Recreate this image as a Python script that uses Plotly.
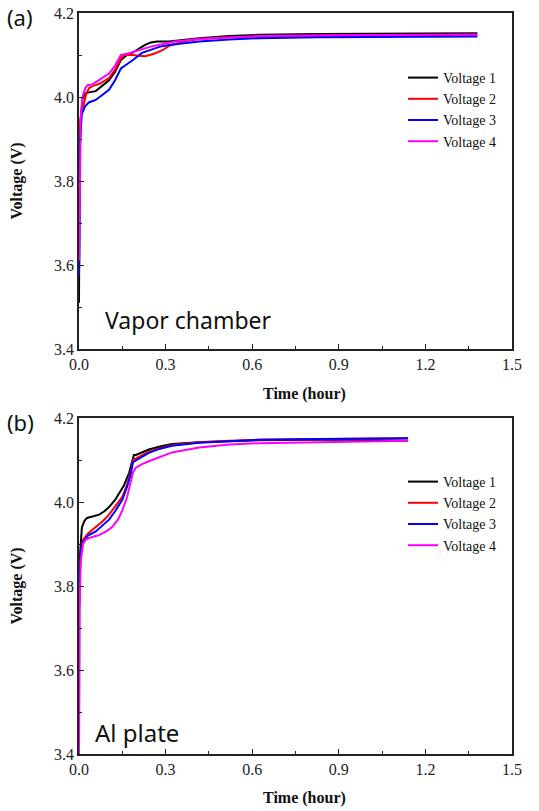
import plotly.graph_objects as go

# ---------------- data: panel (a) Vapor chamber ----------------
a_v1_t = [0, 0.002, 0.006, 0.012, 0.021, 0.034, 0.058, 0.083, 0.104, 0.125, 0.145, 0.166, 0.187, 0.208, 0.229, 0.249, 0.27, 0.312, 0.364, 0.416, 0.52, 0.623, 0.831, 1.039, 1.247, 1.38]
a_v1_v = [3.51, 3.85, 3.95, 3.995, 4.008, 4.011, 4.014, 4.027, 4.04, 4.06, 4.088, 4.1, 4.106, 4.115, 4.124, 4.13, 4.132, 4.132, 4.136, 4.14, 4.145, 4.148, 4.15, 4.151, 4.152, 4.152]
a_v2_t = [0, 0.004, 0.01, 0.018, 0.026, 0.036, 0.047, 0.073, 0.104, 0.125, 0.145, 0.156, 0.187, 0.208, 0.229, 0.26, 0.291, 0.312, 0.364, 0.416, 0.52, 0.727, 1.039, 1.38]
a_v2_v = [3.88, 3.94, 3.965, 3.985, 4.01, 4.022, 4.026, 4.032, 4.045, 4.065, 4.093, 4.1, 4.1, 4.098, 4.097, 4.103, 4.112, 4.122, 4.133, 4.138, 4.142, 4.145, 4.147, 4.148]
a_v3_t = [0, 0.001, 0.004, 0.01, 0.021, 0.034, 0.058, 0.083, 0.104, 0.125, 0.145, 0.166, 0.187, 0.218, 0.249, 0.281, 0.312, 0.364, 0.416, 0.52, 0.623, 0.831, 1.039, 1.38]
a_v3_v = [3.575, 3.61, 3.9, 3.96, 3.978, 3.987, 3.993, 4.005, 4.017, 4.04, 4.068, 4.078, 4.088, 4.105, 4.113, 4.12, 4.124, 4.128, 4.132, 4.137, 4.14, 4.142, 4.143, 4.144]
a_v4_t = [0, 0.002, 0.006, 0.012, 0.021, 0.029, 0.046, 0.073, 0.104, 0.125, 0.145, 0.166, 0.187, 0.218, 0.249, 0.291, 0.332, 0.416, 0.52, 0.623, 0.831, 1.039, 1.38]
a_v4_v = [3.61, 3.8, 3.95, 4.0, 4.02, 4.028, 4.03, 4.042, 4.056, 4.075, 4.1, 4.103, 4.107, 4.113, 4.12, 4.126, 4.132, 4.138, 4.142, 4.145, 4.147, 4.148, 4.149]

# ---------------- data: panel (b) Al plate ----------------
b_v1_t = [0, 0.003, 0.01, 0.019, 0.028, 0.047, 0.07, 0.088, 0.104, 0.125, 0.138, 0.156, 0.174, 0.185, 0.19, 0.197, 0.218, 0.242, 0.281, 0.322, 0.416, 0.52, 0.623, 0.779, 0.935, 1.14]
b_v1_v = [3.8, 3.87, 3.94, 3.955, 3.962, 3.966, 3.97, 3.978, 3.988, 4.005, 4.02, 4.04, 4.07, 4.1, 4.112, 4.112, 4.118, 4.125, 4.132, 4.138, 4.142, 4.145, 4.147, 4.148, 4.148, 4.146]
b_v2_t = [0, 0.002, 0.006, 0.014, 0.031, 0.058, 0.083, 0.104, 0.125, 0.15, 0.166, 0.179, 0.187, 0.208, 0.242, 0.281, 0.322, 0.416, 0.52, 0.623, 0.831, 1.039, 1.14]
b_v2_v = [3.73, 3.82, 3.88, 3.91, 3.925, 3.94, 3.955, 3.97, 3.99, 4.012, 4.04, 4.07, 4.1, 4.108, 4.12, 4.128, 4.136, 4.142, 4.146, 4.148, 4.15, 4.152, 4.152]
b_v3_t = [0, 0.001, 0.004, 0.008, 0.014, 0.031, 0.058, 0.083, 0.104, 0.125, 0.15, 0.166, 0.179, 0.187, 0.208, 0.242, 0.281, 0.322, 0.416, 0.52, 0.623, 0.831, 1.039, 1.14]
b_v3_v = [3.42, 3.75, 3.85, 3.89, 3.905, 3.92, 3.93, 3.945, 3.958, 3.978, 4.005, 4.035, 4.065, 4.095, 4.104, 4.117, 4.127, 4.134, 4.141, 4.145, 4.148, 4.15, 4.152, 4.152]
b_v4_t = [0, 0.002, 0.006, 0.014, 0.023, 0.034, 0.052, 0.07, 0.094, 0.114, 0.135, 0.15, 0.166, 0.179, 0.187, 0.196, 0.218, 0.242, 0.281, 0.322, 0.416, 0.52, 0.623, 0.831, 1.039, 1.14]
b_v4_v = [3.4, 3.75, 3.86, 3.9, 3.91, 3.914, 3.918, 3.921, 3.93, 3.94, 3.958, 3.98, 4.01, 4.045, 4.07, 4.081, 4.09, 4.097, 4.108, 4.118, 4.13, 4.137, 4.14, 4.143, 4.145, 4.146]

names = ["Voltage 1", "Voltage 2", "Voltage 3", "Voltage 4"]
colors = ["#000000", "#ff0000", "#0000ff", "#ff00ff"]

x_ticks = [0.0, 0.3, 0.6, 0.9, 1.2, 1.5]
y_ticks = [3.4, 3.6, 3.8, 4.0, 4.2]

panel_a = [(a_v1_t, a_v1_v), (a_v2_t, a_v2_v), (a_v3_t, a_v3_v), (a_v4_t, a_v4_v)]
panel_b = [(b_v1_t, b_v1_v), (b_v2_t, b_v2_v), (b_v3_t, b_v3_v), (b_v4_t, b_v4_v)]

fig = go.Figure()
for (t, v), n, c in zip(panel_a, names, colors):
    fig.add_trace(go.Scatter(x=t, y=v, mode="lines", name=n, line=dict(color=c, width=2),
                             xaxis="x", yaxis="y", legend="legend"))
for (t, v), n, c in zip(panel_b, names, colors):
    fig.add_trace(go.Scatter(x=t, y=v, mode="lines", name=n, line=dict(color=c, width=2),
                             xaxis="x2", yaxis="y2", legend="legend2"))

W, H = 539, 811
def px_x(p):
    return p / W
def px_y(p):
    return 1 - p / H

serif = "Liberation Serif, Times New Roman, serif"
sans = "Noto Sans, Open Sans, sans-serif"

axis_common = dict(
    showline=True, linecolor="#222", linewidth=1.5, mirror=True,
    ticks="inside", ticklen=5, tickwidth=1.2, tickcolor="#222",
    showgrid=False, zeroline=False, automargin=False, ticklabeloverflow="allow",
    tickfont=dict(family=serif, size=16, color="#222"),
)
xdom = [px_x(79), px_x(512)]

def xaxis(anchor):
    return dict(axis_common, domain=xdom, anchor=anchor, range=[0, 1.5],
                tickvals=x_ticks, ticktext=["%.1f" % v for v in x_ticks],
                minor=dict(ticks="inside", ticklen=3, tickwidth=1.2, tickcolor="#222",
                           tickvals=[0.15, 0.45, 0.75, 1.05, 1.35]))

def yaxis(anchor, dom):
    return dict(axis_common, domain=dom, anchor=anchor, range=[3.4, 4.2],
                tickvals=y_ticks, ticktext=["%.1f" % v for v in y_ticks],
                minor=dict(ticks="inside", ticklen=3, tickwidth=1.2, tickcolor="#222",
                           tickvals=[3.5, 3.7, 3.9, 4.1]),
                title=dict(text="<b>Voltage (V)</b>", font=dict(family=serif, size=16, color="#111"), standoff=27))

legend_common = dict(font=dict(family=serif, size=14, color="#111"), bgcolor="rgba(0,0,0,0)",
                     borderwidth=0, tracegroupgap=0, itemwidth=30, xanchor="left", yanchor="top")

def ann(text, x, y, size, family, xanchor="left"):
    return dict(text=text, x=px_x(x), y=px_y(y), xref="paper", yref="paper", xanchor=xanchor,
                yanchor="middle", showarrow=False, font=dict(family=family, size=size, color="#111"))

fig.update_layout(
    width=W, height=H,
    margin=dict(l=0, r=0, t=0, b=0),
    paper_bgcolor="white", plot_bgcolor="white",
    xaxis=xaxis("y"),
    yaxis=yaxis("x", [px_y(349), px_y(13)]),
    xaxis2=xaxis("y2"),
    yaxis2=yaxis("x2", [px_y(754), px_y(418)]),
    legend=dict(legend_common, x=px_x(403), y=px_y(62)),
    legend2=dict(legend_common, x=px_x(403), y=px_y(466)),
    annotations=[
        ann("(a)", 5, 17, 22, sans),
        ann("(b)", 5, 422, 22, sans),
        ann("Vapor chamber", 103, 320, 23, sans),
        ann("Al plate", 93, 732, 24, sans),
        ann("<b>Time (hour)</b>", 304, 394, 16, serif, "center"),
        ann("<b>Time (hour)</b>", 304, 798, 16, serif, "center"),
    ],
    showlegend=True,
)

fig.write_html("out.html")
